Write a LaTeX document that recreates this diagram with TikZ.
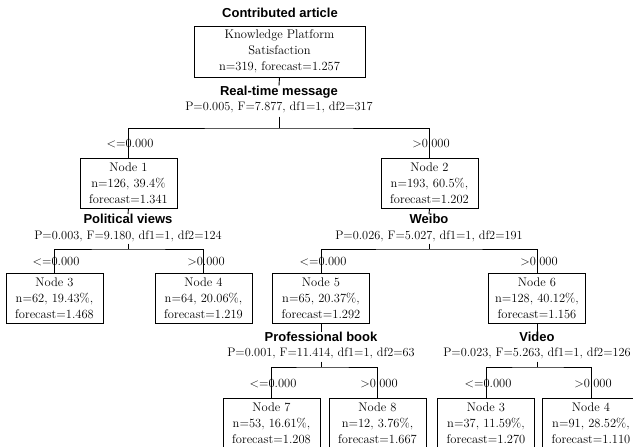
\documentclass[tikz,border=0pt]{standalone}
\usepackage{fontspec}
\setsansfont{Liberation Sans}
\usepackage{tikz}

\begin{document}
\begin{tikzpicture}[x = 1pt, y = -1pt,
	box/.style = {draw, line width = 1pt, minimum width = 97pt, minimum height = 50pt, align = center, inner sep = 1pt, font = \fontsize{12.5}{16}\selectfont},
	var/.style = {inner sep = 0pt, font = \sffamily\bfseries\fontsize{13}{15}\selectfont},
	stat/.style = {inner sep = 0pt, font = \fontsize{12.3}{15}\selectfont},
	cond/.style = {inner sep = 0pt, font = \fontsize{12.5}{15}\selectfont},
	edge/.style = {line width = 0.9pt}]
	\clip (0,0) rectangle (633,447);
	
	\node [var] (title) at (280,13) {Contributed article};
	\node [box, minimum width = 171pt, minimum height = 51pt] (root) at (279.5,51.5) {Knowledge Platform\\Satisfaction\\n=319, forecast=1.257};
	\node [var] (rtm) at (279,92) {Real-time message};
	\node [stat] (rtmstat) at (279,107) {P=0.005, F=7.877, df1=1, df2=317};
	\coordinate (s0) at (279,128);
	
	\node [box] (n1) at (128.5,183) {Node 1\\n=126, 39.4\%\\forecast=1.341};
	\node [box] (n2) at (429.5,183) {Node 2\\n=193, 60.5\%,\\forecast=1.202};
	\node [cond] (c1) at (130,144) {<=0.000};
	\node [cond] (c2) at (431,144) {>0.000};
	
	\draw [edge] (root.south) -- (rtm.north);
	\draw [edge, shorten <= 4pt] (rtmstat.south) -- (s0);
	\draw [edge] (n1.north) |- (s0) -| (n2.north);
	
	% Political views
	\node [var] (pv) at (128,219) {Political views};
	\node [stat] (pvstat) at (128,236) {P=0.003, F=9.180, df1=1, df2=124};
	\coordinate (s1) at (128,249);
	\node [box] (n3) at (54.5,298.5) {Node 3\\n=62, 19.43\%,\\forecast=1.468};
	\node [box] (n4) at (203.5,298.5) {Node 4\\n=64, 20.06\%,\\forecast=1.219};
	\node [cond] (c3) at (56,262) {<=0.000};
	\node [cond] (c4) at (206,262) {>0.000};
	\draw [edge] (n1.south) -- (pv.north);
	\draw [edge, shorten <= 2pt] (pvstat.south) -- (s1);
	\draw [edge] (n3.north) |- (s1) -| (n4.north);
	
	% Weibo
	\node [var] (wb) at (429,219) {Weibo};
	\node [stat] (wbstat) at (429,236) {P=0.026, F=5.027, df1=1, df2=191};
	\coordinate (s2) at (429,249);
	\node [box] (n5) at (321,298.5) {Node 5\\n=65, 20.37\%,\\forecast=1.292};
	\node [box] (n6) at (537,298.5) {Node 6\\n=128, 40.12\%,\\forecast=1.156};
	\node [cond] (c5) at (323,262) {<=0.000};
	\node [cond] (c6) at (539,262) {>0.000};
	\draw [edge] (n2.south) -- (wb.north);
	\draw [edge, shorten <= 2pt] (wbstat.south) -- (s2);
	\draw [edge] (n5.north) |- (s2) -| (n6.north);
	
	% Professional book
	\node [var] (pb) at (321,337) {Professional book};
	\node [stat] (pbstat) at (321,353) {P=0.001, F=11.414, df1=1, df2=63};
	\coordinate (s3) at (321,367);
	\node [box] (n7) at (271.5,423) {Node 7\\n=53, 16.61\%,\\forecast=1.208};
	\node [box] (n8) at (377.5,423) {Node 8\\n=12, 3.76\%,\\forecast=1.667};
	\node [cond] (c7) at (273,384) {<=0.000};
	\node [cond] (c8) at (379,384) {>0.000};
	\draw [edge] (n5.south) -- (pb.north);
	\draw [edge, shorten <= 3pt] (pbstat.south) -- (s3);
	\draw [edge] (n7.north) |- (s3) -| (n8.north);
	
	% Video
	\node [var] (vd) at (537,337) {Video};
	\node [stat] (vdstat) at (537,353) {P=0.023, F=5.263, df1=1, df2=126};
	\coordinate (s4) at (537,367);
	\node [box] (n3b) at (486,423) {Node 3\\n=37, 11.59\%,\\forecast=1.270};
	\node [box] (n4b) at (591,423) {Node 4\\n=91, 28.52\%,\\forecast=1.110};
	\node [cond] (c9) at (488,384) {<=0.000};
	\node [cond] (c10) at (593,384) {>0.000};
	\draw [edge] (n6.south) -- (vd.north);
	\draw [edge, shorten <= 3pt] (vdstat.south) -- (s4);
	\draw [edge] (n3b.north) |- (s4) -| (n4b.north);
\end{tikzpicture}
\end{document}
